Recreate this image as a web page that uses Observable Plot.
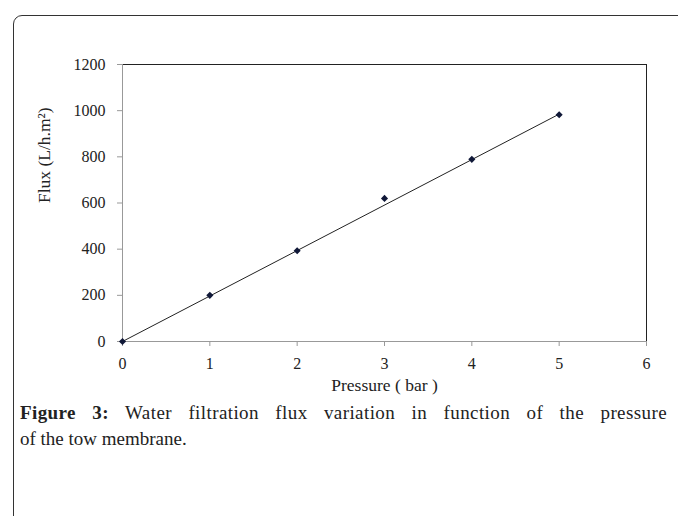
<!DOCTYPE html>
<html>
<head>
<meta charset="utf-8">
<script src="https://cdn.jsdelivr.net/npm/d3@7"></script>
<script src="https://cdn.jsdelivr.net/npm/@observablehq/plot@0.6"></script>
<style>
  html, body { margin: 0; padding: 0; background: #fff; width: 678px; height: 516px; overflow: hidden; }
  #frame { position: absolute; left: 13px; top: 15px; width: 700px; height: 540px;
           border: 1px solid #333; border-top-left-radius: 9px; box-sizing: border-box; }
  #chart { position: absolute; left: 0; top: 0; }
  #caption { position: absolute; left: 20px; top: 400px; width: 647px;
             font-family: "Liberation Serif", serif; font-size: 19px; line-height: 26px; color: #222; }
  #caption .l1 { text-align: justify; text-align-last: justify; letter-spacing: 0.4px; }
  #chart svg text { font-family: "Liberation Serif", serif; }
</style>
</head>
<body>
<div id="frame"></div>
<div id="chart"></div>
<div id="caption">
  <div class="l1"><b>Figure 3:</b> Water filtration flux variation in function of the pressure</div>
  <div>of the tow membrane.</div>
</div>
<script>
const pressure = [0, 1, 2, 3, 4, 5];
const flux = [0, 200, 393, 620, 789, 982];
const trendPressure = [0, 5];
const trendFlux = [0, 985];
const xTicks = [0, 1, 2, 3, 4, 5, 6];
const yTicks = [0, 200, 400, 600, 800, 1000, 1200];
const xTitle = "Pressure ( bar )";
const yTitle = "Flux (L/h.m²)";

const points = pressure.map((p, i) => ({p, f: flux[i]}));
const trend = trendPressure.map((p, i) => ({p, f: trendFlux[i]}));
const serif = "Liberation Serif";

const chart = Plot.plot({
  width: 678,
  height: 400,
  marginLeft: 122,
  marginRight: 32,
  marginTop: 64,
  marginBottom: 59,
  x: {domain: [0, 6]},
  y: {domain: [0, 1200]},
  style: {fontFamily: serif, fontSize: "16px", color: "#222", background: "transparent"},
  marks: [
    Plot.ruleY([1200], {stroke: "#222", strokeWidth: 1}),
    Plot.ruleX([6], {stroke: "#222", strokeWidth: 1}),
    Plot.ruleX([0], {stroke: "#999"}),
    Plot.ruleY([0], {stroke: "#999"}),
    Plot.axisX(xTicks, {tickSize: 5, tickPadding: 11, stroke: "#999", label: null, color: "#222", fontSize: 16, fontFamily: serif, tickFormat: d => String(d)}),
    Plot.axisY(yTicks, {tickSize: 5, tickPadding: 12, stroke: "#999", label: null, color: "#222", fontSize: 16, fontFamily: serif, tickFormat: d => String(d)}),
    Plot.line(trend, {x: "p", y: "f", stroke: "#222", strokeWidth: 1}),
    Plot.dot(points, {x: "p", y: "f", symbol: "diamond2", r: 3.2, fill: "#101838", stroke: "none"}),
    Plot.text([xTitle], {frameAnchor: "bottom", dy: 49, fontSize: 17.5, fontFamily: serif, fill: "#222"}),
    Plot.text([yTitle], {frameAnchor: "left", dx: -78, rotate: -90, fontSize: 17.5, fontFamily: serif, fill: "#222"})
  ]
});
document.getElementById("chart").appendChild(chart);
</script>
</body>
</html>
